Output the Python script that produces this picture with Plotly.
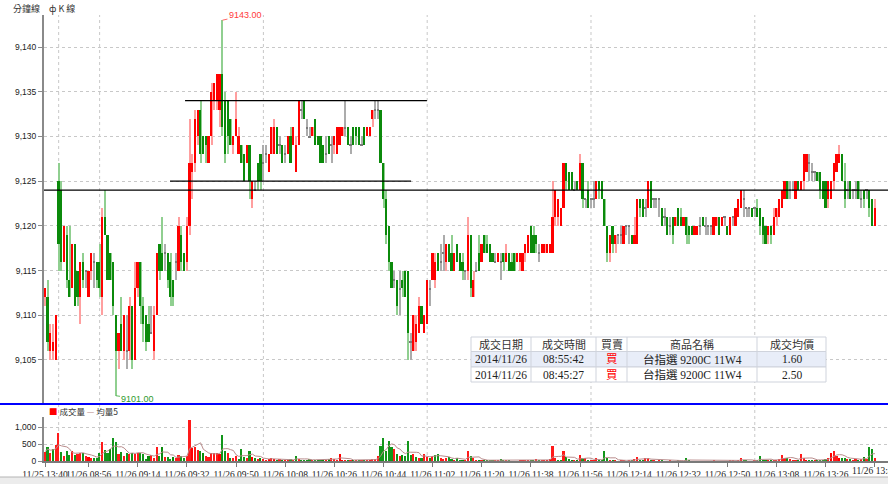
import plotly.graph_objects as go
import pandas as pd
from datetime import datetime, timedelta

# ---------------- data ----------------
open_p = [
    9112, 9112, 9106, 9106, 9105, 9125, 9124, 9116, 9119, 9114,
    9113, 9118, 9115, 9112, 9116, 9115, 9112, 9115, 9116, 9116,
    9116, 9112, 9121, 9119, 9117, 9116, 9110, 9106, 9109, 9106,
    9106, 9106, 9111, 9105, 9113, 9116, 9111, 9110, 9109, 9108,
    9106, 9110, 9118, 9117, 9117, 9117, 9116, 9114, 9116, 9115,
    9119, 9117, 9116, 9120, 9126, 9127, 9130, 9133, 9130, 9130,
    9127, 9130, 9134, 9134, 9133, 9137, 9134, 9134, 9132, 9129,
    9130, 9128, 9129, 9128, 9127, 9129, 9123, 9124, 9127, 9128,
    9127, 9128, 9126, 9128, 9128, 9131, 9129, 9129, 9128, 9128,
    9130, 9129, 9126, 9129, 9133, 9134, 9131, 9130, 9130, 9132,
    9130, 9130, 9129, 9128, 9130, 9129, 9129, 9128, 9129, 9130,
    9131, 9131, 9129, 9131, 9131, 9131, 9129, 9131, 9130, 9130,
    9132, 9133, 9133, 9133, 9127, 9123, 9120, 9116, 9114, 9114,
    9113, 9114, 9115, 9115, 9107, 9106, 9107, 9108, 9111, 9108,
    9109, 9113, 9114, 9114, 9117, 9116, 9117, 9116, 9118, 9117,
    9115, 9118, 9117, 9116, 9115, 9115, 9119, 9112, 9115, 9117,
    9116, 9119, 9118, 9118, 9117, 9116, 9116, 9116, 9117, 9116,
    9117, 9116, 9117, 9116, 9116, 9115, 9117, 9117, 9120, 9119,
    9119, 9117, 9117, 9117, 9117, 9117, 9117, 9121, 9121, 9120,
    9122, 9127, 9126, 9126, 9124, 9125, 9124, 9127, 9123, 9124,
    9123, 9123, 9123, 9125, 9125, 9123, 9120, 9117, 9120, 9118,
    9119, 9119, 9118, 9120, 9120, 9119, 9118, 9118, 9123, 9123,
    9122, 9122, 9125, 9123, 9123, 9123, 9122, 9121, 9121, 9120,
    9121, 9120, 9122, 9121, 9120, 9121, 9120, 9120, 9119, 9119,
    9120, 9121, 9120, 9120, 9120, 9119, 9120, 9121, 9120, 9121,
    9120, 9119, 9121, 9120, 9121, 9122, 9123, 9122, 9122, 9122,
    9122, 9122, 9122, 9121, 9120, 9119, 9120, 9119, 9121, 9121,
    9122, 9123, 9125, 9124, 9124, 9123, 9125, 9124, 9125, 9126,
    9127, 9126, 9126, 9126, 9126, 9125, 9125, 9123, 9123, 9125,
    9126, 9127, 9128, 9125, 9124, 9125, 9124, 9124, 9125, 9123,
    9124, 9124, 9124, 9123, 9120,
]
high_p = [
    9113, 9114, 9109, 9109, 9110, 9127, 9125, 9120, 9120, 9120,
    9118, 9118, 9115, 9116, 9117, 9115, 9115, 9117, 9117, 9116,
    9118, 9122, 9124, 9119, 9117, 9116, 9110, 9108, 9112, 9110,
    9110, 9112, 9111, 9116, 9116, 9116, 9112, 9110, 9111, 9111,
    9111, 9117, 9118, 9121, 9118, 9117, 9117, 9114, 9117, 9121,
    9120, 9117, 9121, 9132, 9128, 9133, 9133, 9134, 9130, 9130,
    9130, 9136, 9136, 9137, 9137, 9143, 9135, 9134, 9132, 9130,
    9135, 9131, 9129, 9128, 9129, 9129, 9125, 9125, 9127, 9128,
    9129, 9129, 9128, 9131, 9132, 9131, 9130, 9129, 9129, 9130,
    9131, 9131, 9130, 9134, 9134, 9134, 9132, 9131, 9131, 9132,
    9130, 9130, 9129, 9130, 9130, 9130, 9130, 9131, 9131, 9131,
    9134, 9131, 9130, 9131, 9131, 9131, 9130, 9131, 9131, 9131,
    9133, 9134, 9134, 9133, 9127, 9124, 9120, 9116, 9115, 9114,
    9115, 9115, 9115, 9115, 9108, 9110, 9110, 9112, 9111, 9110,
    9114, 9114, 9117, 9117, 9117, 9118, 9119, 9118, 9118, 9119,
    9117, 9118, 9117, 9117, 9115, 9121, 9119, 9115, 9116, 9119,
    9118, 9119, 9119, 9118, 9117, 9117, 9117, 9117, 9117, 9118,
    9117, 9117, 9117, 9117, 9117, 9117, 9118, 9119, 9120, 9120,
    9119, 9118, 9118, 9118, 9118, 9118, 9125, 9124, 9123, 9122,
    9127, 9127, 9126, 9126, 9125, 9125, 9128, 9127, 9123, 9125,
    9123, 9125, 9125, 9125, 9125, 9123, 9120, 9119, 9120, 9119,
    9119, 9120, 9120, 9120, 9120, 9119, 9121, 9123, 9123, 9123,
    9123, 9125, 9125, 9123, 9123, 9123, 9122, 9122, 9121, 9121,
    9121, 9121, 9122, 9122, 9121, 9121, 9120, 9120, 9120, 9120,
    9121, 9121, 9121, 9120, 9120, 9121, 9121, 9121, 9121, 9121,
    9120, 9121, 9121, 9122, 9123, 9124, 9124, 9122, 9122, 9122,
    9122, 9123, 9122, 9121, 9120, 9120, 9120, 9122, 9122, 9123,
    9124, 9125, 9125, 9125, 9125, 9125, 9125, 9125, 9128, 9128,
    9128, 9127, 9126, 9126, 9126, 9125, 9125, 9125, 9125, 9127,
    9128, 9129, 9128, 9127, 9125, 9125, 9124, 9125, 9125, 9124,
    9124, 9124, 9124, 9123, 9123,
]
low_p = [
    9111, 9106, 9105, 9105, 9105, 9115, 9115, 9116, 9113, 9112,
    9113, 9111, 9111, 9109, 9113, 9113, 9112, 9114, 9113, 9113,
    9112, 9110, 9119, 9114, 9114, 9110, 9101, 9104, 9106, 9105,
    9104, 9105, 9104, 9105, 9112, 9109, 9107, 9106, 9107, 9108,
    9105, 9110, 9114, 9115, 9115, 9113, 9111, 9111, 9114, 9115,
    9115, 9115, 9115, 9119, 9123, 9126, 9129, 9127, 9128, 9127,
    9127, 9129, 9133, 9133, 9131, 9130, 9127, 9128, 9129, 9128,
    9130, 9128, 9127, 9125, 9127, 9123, 9122, 9124, 9124, 9124,
    9125, 9127, 9126, 9128, 9128, 9128, 9128, 9127, 9127, 9128,
    9127, 9129, 9126, 9129, 9132, 9132, 9130, 9130, 9130, 9129,
    9129, 9127, 9127, 9127, 9128, 9127, 9128, 9128, 9129, 9130,
    9130, 9129, 9128, 9129, 9129, 9129, 9129, 9129, 9130, 9130,
    9131, 9132, 9132, 9127, 9122, 9118, 9115, 9113, 9113, 9110,
    9110, 9112, 9112, 9105, 9105, 9106, 9106, 9108, 9109, 9108,
    9109, 9111, 9114, 9113, 9115, 9115, 9115, 9115, 9116, 9115,
    9115, 9116, 9115, 9114, 9114, 9114, 9112, 9112, 9115, 9115,
    9116, 9117, 9117, 9116, 9116, 9116, 9116, 9114, 9115, 9116,
    9115, 9115, 9115, 9116, 9115, 9115, 9116, 9117, 9117, 9117,
    9117, 9116, 9117, 9117, 9117, 9117, 9117, 9120, 9120, 9120,
    9122, 9124, 9124, 9124, 9124, 9124, 9124, 9122, 9122, 9122,
    9122, 9122, 9123, 9123, 9123, 9120, 9116, 9116, 9117, 9117,
    9118, 9118, 9118, 9119, 9118, 9118, 9118, 9118, 9121, 9121,
    9121, 9122, 9122, 9122, 9122, 9121, 9120, 9120, 9119, 9119,
    9118, 9120, 9120, 9120, 9120, 9118, 9118, 9119, 9119, 9119,
    9119, 9120, 9119, 9119, 9119, 9119, 9120, 9119, 9120, 9120,
    9119, 9119, 9120, 9120, 9121, 9122, 9121, 9121, 9121, 9121,
    9121, 9121, 9119, 9118, 9118, 9118, 9118, 9119, 9120, 9121,
    9122, 9123, 9123, 9123, 9124, 9123, 9124, 9124, 9124, 9126,
    9125, 9125, 9125, 9125, 9123, 9123, 9122, 9122, 9123, 9124,
    9126, 9127, 9125, 9122, 9123, 9123, 9123, 9123, 9123, 9122,
    9122, 9123, 9121, 9120, 9120,
]
close_p = [
    9113, 9107, 9108, 9107, 9110, 9118, 9116, 9120, 9114, 9112,
    9118, 9111, 9112, 9116, 9114, 9115, 9115, 9117, 9116, 9114,
    9113, 9121, 9119, 9114, 9114, 9111, 9106, 9108, 9106, 9110,
    9106, 9111, 9105, 9113, 9116, 9111, 9109, 9107, 9107, 9108,
    9110, 9117, 9115, 9115, 9117, 9114, 9112, 9112, 9116, 9120,
    9116, 9115, 9120, 9127, 9127, 9132, 9133, 9128, 9128, 9129,
    9130, 9135, 9136, 9137, 9137, 9131, 9128, 9130, 9129, 9130,
    9132, 9130, 9127, 9125, 9129, 9125, 9125, 9124, 9125, 9125,
    9127, 9128, 9128, 9131, 9131, 9128, 9129, 9127, 9128, 9130,
    9127, 9131, 9129, 9134, 9133, 9132, 9131, 9130, 9131, 9129,
    9129, 9127, 9127, 9128, 9128, 9129, 9130, 9131, 9131, 9131,
    9131, 9129, 9129, 9129, 9130, 9129, 9129, 9129, 9131, 9131,
    9133, 9133, 9133, 9127, 9123, 9119, 9116, 9113, 9114, 9111,
    9113, 9113, 9112, 9108, 9107, 9110, 9109, 9111, 9109, 9110,
    9114, 9113, 9117, 9116, 9115, 9116, 9117, 9118, 9116, 9115,
    9117, 9116, 9115, 9115, 9115, 9119, 9113, 9114, 9115, 9115,
    9118, 9117, 9117, 9116, 9116, 9116, 9117, 9116, 9116, 9117,
    9115, 9115, 9115, 9117, 9117, 9117, 9118, 9119, 9117, 9117,
    9118, 9117, 9118, 9118, 9118, 9118, 9121, 9124, 9123, 9122,
    9127, 9125, 9124, 9124, 9124, 9124, 9127, 9123, 9123, 9122,
    9123, 9123, 9125, 9124, 9123, 9120, 9117, 9119, 9118, 9119,
    9119, 9119, 9120, 9120, 9120, 9118, 9119, 9123, 9122, 9121,
    9122, 9125, 9122, 9123, 9123, 9123, 9120, 9121, 9119, 9120,
    9119, 9121, 9120, 9120, 9121, 9119, 9119, 9119, 9120, 9120,
    9120, 9120, 9120, 9120, 9120, 9121, 9121, 9119, 9121, 9121,
    9119, 9121, 9121, 9122, 9123, 9124, 9123, 9122, 9122, 9121,
    9122, 9121, 9120, 9119, 9118, 9120, 9119, 9121, 9122, 9123,
    9124, 9125, 9123, 9124, 9124, 9125, 9124, 9125, 9128, 9128,
    9127, 9126, 9126, 9125, 9124, 9123, 9122, 9125, 9125, 9127,
    9128, 9128, 9125, 9123, 9124, 9123, 9124, 9124, 9123, 9123,
    9123, 9124, 9122, 9120, 9122,
]
volume = [
    280, 425, 260, 360, 500, 850, 280, 160, 300, 200,
    300, 190, 210, 250, 260, 160, 130, 90, 110, 90,
    250, 570, 330, 260, 360, 690, 570, 210, 290, 160,
    260, 210, 260, 230, 260, 260, 210, 60, 160, 190,
    110, 440, 160, 440, 130, 130, 60, 130, 90, 190,
    160, 110, 160, 1220, 410, 440, 330, 300, 260, 160,
    130, 240, 260, 260, 210, 800, 300, 260, 110, 90,
    160, 60, 360, 130, 90, 300, 130, 90, 60, 90,
    60, 30, 60, 90, 60, 30, 60, 30, 30, 30,
    60, 30, 160, 60, 30, 30, 30, 60, 30, 30,
    30, 30, 30, 30, 60, 110, 60, 30, 210, 30,
    30, 30, 30, 30, 30, 20, 30, 20, 30, 30,
    60, 60, 160, 470, 700, 320, 620, 420, 370, 210,
    160, 190, 160, 600, 190, 210, 130, 110, 90, 210,
    130, 90, 160, 190, 230, 110, 60, 90, 130, 60,
    30, 110, 30, 30, 50, 320, 150, 90, 30, 20,
    30, 20, 30, 20, 20, 30, 20, 60, 20, 20,
    20, 10, 10, 10, 20, 30, 20, 20, 30, 40,
    60, 30, 20, 20, 30, 60, 470, 90, 30, 40,
    300, 130, 60, 30, 20, 40, 190, 90, 90, 30,
    20, 20, 90, 30, 20, 300, 90, 30, 20, 30,
    10, 20, 30, 10, 20, 20, 60, 130, 40, 20,
    90, 90, 40, 20, 10, 20, 30, 10, 10, 20,
    10, 10, 20, 10, 10, 90, 20, 10, 10, 10,
    10, 10, 10, 10, 10, 20, 10, 10, 10, 10,
    10, 20, 20, 10, 30, 90, 30, 20, 10, 10,
    20, 30, 160, 40, 20, 30, 20, 40, 30, 60,
    190, 110, 90, 60, 40, 40, 30, 230, 110, 40,
    40, 20, 40, 20, 40, 30, 60, 110, 260, 300,
    160, 110, 90, 110, 60, 60, 40, 60, 40, 60,
    130, 60, 440, 360, 100,
]

price_ticks = [9105, 9110, 9115, 9120, 9125, 9130, 9135, 9140]
volume_ticks = [0, 500, 1000]

# hand-drawn horizontal reference lines (price level, from bar, to bar; None = full width)
ref_levels = [9124, 9125, 9134]
ref_from = [None, 45.8, 51.3]
ref_to = [None, 134.1, 139.9]

table_header = ["成交日期", "成交時間", "買賣", "商品名稱", "成交均價"]
table_rows = [
    ["2014/11/26", "08:55:42", "買", "台指選 9200C 11W4", "1.60"],
    ["2014/11/26", "08:45:27", "買", "台指選 9200C 11W4", "2.50"],
]

# ---------------- derived ----------------
n = len(close_p)
idx = list(range(n))
n_prev_day = 5
t0 = datetime(2014, 11, 25, 13, 40)
t1 = datetime(2014, 11, 26, 8, 45)
time_labels = [(t0 + timedelta(minutes=k)).strftime("%m/%d %H:%M") for k in range(n_prev_day)] + \
              [(t1 + timedelta(minutes=k)).strftime("%m/%d %H:%M") for k in range(n - n_prev_day)]
tick_idx = [0] + list(range(16, n, 18))
tick_txt = [time_labels[i] for i in tick_idx]
last_tick = tick_idx[-1]
tick_txt_axis = tick_txt[:-1] + [""]          # last label drawn separately (runs off the edge)
grid_idx = [i for i in range(1, n)
            if time_labels[i][:5] != time_labels[i - 1][:5] or time_labels[i].endswith(":00")]

UP, DN, FL = "#ff0000", "#0b8a0b", "#7a7a7a"
UPW, DNW, FLW = "#ff9f9f", "#90cf90", "#acacac"
body_col, wick_col = [], []
for o, c in zip(open_p, close_p):
    if c > o:
        body_col.append(UP); wick_col.append(UPW)
    elif c < o:
        body_col.append(DN); wick_col.append(DNW)
    else:
        body_col.append(FL); wick_col.append(FLW)

vol_col = []
for i in idx:
    prev = close_p[i - 1] if i > 0 else open_p[0]
    if close_p[i] > prev:
        vol_col.append("#ff1a1a")
    elif close_p[i] < prev:
        vol_col.append("#12961a")
    else:
        vol_col.append(body_col[i] if body_col[i] != FL else "#ff1a1a")

ma5 = pd.Series(volume).rolling(5, min_periods=1).mean().tolist()

body_h = [max(abs(c - o), 0.14) for o, c in zip(open_p, close_p)]
body_b = [min(o, c) - (0.07 if o == c else 0) for o, c in zip(open_p, close_p)]
wick_h = [h - l for h, l in zip(high_p, low_p)]

# ---------------- geometry helpers ----------------
W, H = 888, 484
ML, MR, MT, MB = 44, 0, 15, 23
PW, PH = W - ML - MR, H - MT - MB


def px(x):
    return (x - ML) / PW


def py(y):
    return (H - MB - y) / PH


fig = go.Figure()
fig.add_trace(go.Bar(x=idx, y=wick_h, base=low_p, width=0.38,
                     marker=dict(color=wick_col, line=dict(width=0)),
                     hoverinfo="skip", yaxis="y"))
fig.add_trace(go.Bar(x=idx, y=body_h, base=body_b, width=0.62,
                     marker=dict(color=body_col, line=dict(width=0)),
                     hoverinfo="skip", yaxis="y"))
fig.add_trace(go.Bar(x=idx, y=volume, width=0.6,
                     marker=dict(color=vol_col, line=dict(width=0)),
                     hoverinfo="skip", yaxis="y2"))
fig.add_trace(go.Scatter(x=idx, y=ma5, mode="lines", yaxis="y2",
                         line=dict(color="#b98c8c", width=1), hoverinfo="skip"))

shapes = []
for gi in grid_idx:
    shapes.append(dict(type="line", xref="x", yref="paper", x0=gi, x1=gi, y0=0, y1=1,
                       line=dict(color="#c8c8c8", width=1, dash="dot"), layer="below"))
for lv, a, b in zip(ref_levels, ref_from, ref_to):
    if a is None:
        shapes.append(dict(type="line", xref="paper", yref="y", x0=0, x1=1, y0=lv, y1=lv,
                           line=dict(color="#000000", width=1.2)))
    else:
        shapes.append(dict(type="line", xref="x", yref="y", x0=a, x1=b, y0=lv, y1=lv,
                           line=dict(color="#000000", width=1.2)))
# blue separator between panels
shapes.append(dict(type="line", xref="paper", yref="paper", x0=px(0), x1=1, y0=py(404), y1=py(404),
                   line=dict(color="#0000ff", width=2)))
# bottom scroll strip
shapes.append(dict(type="rect", xref="paper", yref="paper", x0=px(0), x1=1, y0=py(484), y1=py(477),
                   fillcolor="#ececec", line=dict(width=0)))
shapes.append(dict(type="line", xref="paper", yref="paper", x0=px(0), x1=1, y0=py(477), y1=py(477),
                   line=dict(color="#b4b4b4", width=1)))

# table
col_edges = [471, 531, 596, 627, 757, 826]
row_edges = [337, 351.5, 367, 382]
row_fill = ["#ffffff", "#e8edf8", "#ffffff"]
for r in range(3):
    shapes.append(dict(type="rect", xref="paper", yref="paper",
                       x0=px(col_edges[0]), x1=px(col_edges[-1]),
                       y0=py(row_edges[r + 1]), y1=py(row_edges[r]),
                       fillcolor=row_fill[r], line=dict(color="#cfd3dc", width=1)))
for c in range(1, len(col_edges) - 1):
    shapes.append(dict(type="line", xref="paper", yref="paper",
                       x0=px(col_edges[c]), x1=px(col_edges[c]),
                       y0=py(row_edges[-1]), y1=py(row_edges[0]),
                       line=dict(color="#cfd3dc", width=1)))

annotations = []
cell_font = "Liberation Serif, Noto Sans CJK TC"
for c, txt in enumerate(table_header):
    annotations.append(dict(x=px((col_edges[c] + col_edges[c + 1]) / 2), y=py((row_edges[0] + row_edges[1]) / 2),
                            xref="paper", yref="paper", xanchor="center", yanchor="middle",
                            text=txt, showarrow=False,
                            font=dict(family="Noto Sans CJK TC", size=11, color="#333333")))
for r, row in enumerate(table_rows):
    for c, txt in enumerate(row):
        annotations.append(dict(x=px((col_edges[c] + col_edges[c + 1]) / 2),
                                y=py((row_edges[r + 1] + row_edges[r + 2]) / 2),
                                xref="paper", yref="paper", xanchor="center", yanchor="middle",
                                text=txt, showarrow=False,
                                font=dict(family=cell_font, size=11.5,
                                          color="#ff0000" if txt == "買" else "#222222")))

# high / low labels
i_hi = max(idx, key=lambda i: high_p[i])
i_lo = min(idx, key=lambda i: low_p[i])
annotations.append(dict(x=i_hi, y=high_p[i_hi], xref="x", yref="y", text=f"{high_p[i_hi]:.2f}",
                        showarrow=True, arrowhead=0, arrowwidth=1, arrowcolor="#ff6a6a",
                        ax=23, ay=-5, font=dict(family="Liberation Sans", size=9, color="#ff3a3a")))
annotations.append(dict(x=i_lo, y=low_p[i_lo], xref="x", yref="y", text=f"{low_p[i_lo]:.2f}",
                        showarrow=True, arrowhead=0, arrowwidth=1, arrowcolor="#5cb85c",
                        ax=22, ay=3, font=dict(family="Liberation Sans", size=9, color="#2e9a2e")))

# last x tick label (cut by the right edge, as in the original)
annotations.append(dict(x=last_tick, y=py(470.5), xref="x", yref="paper", xanchor="center", yanchor="middle",
                        text=tick_txt[-1], showarrow=False,
                        font=dict(family="Liberation Serif", size=9.5, color="#222222")))

# header texts
annotations.append(dict(x=px(26), y=py(9), xref="paper", yref="paper", xanchor="center", yanchor="middle",
                        text="分鐘線", showarrow=False,
                        font=dict(family="Noto Sans CJK TC", size=9, color="#333333")))
annotations.append(dict(x=px(62), y=py(9), xref="paper", yref="paper", xanchor="center", yanchor="middle",
                        text="ф K 線", showarrow=False,
                        font=dict(family="Noto Sans CJK TC", size=9, color="#333333")))
# volume legend
annotations.append(dict(x=px(47), y=py(411), xref="paper", yref="paper", xanchor="left", yanchor="middle",
                        text='<span style="color:#ff0000">■</span> 成交量 '
                             '<span style="color:#b98c8c">—</span> 均量5',
                        showarrow=False,
                        font=dict(family="Noto Sans CJK TC", size=8.5, color="#333333")))

fig.update_layout(
    width=W, height=H,
    margin=dict(l=ML, r=MR, t=MT, b=MB, autoexpand=False),
    paper_bgcolor="#ffffff", plot_bgcolor="#ffffff",
    barmode="overlay", bargap=0, showlegend=False, hovermode=False,
    shapes=shapes, annotations=annotations,
    xaxis=dict(range=[-0.37, 308.8], tickvals=tick_idx, ticktext=tick_txt_axis, tickangle=0,
               ticks="outside", ticklen=4, tickcolor="#7a7a7a", tickwidth=1,
               showline=True, linecolor="#7a7a7a", linewidth=2, automargin=False,
               showgrid=False, zeroline=False, anchor="y2",
               tickfont=dict(family="Liberation Serif", size=9.5, color="#222222")),
    yaxis=dict(domain=[py(403), 1], range=[9100.19, 9143.58], tickvals=price_ticks,
               tickformat=",", ticks="outside", ticklen=4, tickcolor="#8a8a8a",
               showline=True, linecolor="#8a8a8a", linewidth=2, automargin=False,
               showgrid=True, gridcolor="#c8c8c8", griddash="dot", gridwidth=1,
               zeroline=False, anchor="x",
               tickfont=dict(family="Liberation Sans", size=8.5, color="#222222")),
    yaxis2=dict(domain=[0, py(416.5)], range=[0, 1320], tickvals=volume_ticks,
                tickformat=",", ticks="outside", ticklen=4, tickcolor="#8a8a8a",
                showline=True, linecolor="#8a8a8a", linewidth=2, automargin=False,
                showgrid=True, gridcolor="#c8c8c8", griddash="dot", gridwidth=1,
                zeroline=False, anchor="x",
                tickfont=dict(family="Liberation Sans", size=8.5, color="#222222")),
)

fig.write_html("out.html", config={"displayModeBar": False},
               post_script="document.body.style.margin='0';document.body.style.overflow='hidden';")
